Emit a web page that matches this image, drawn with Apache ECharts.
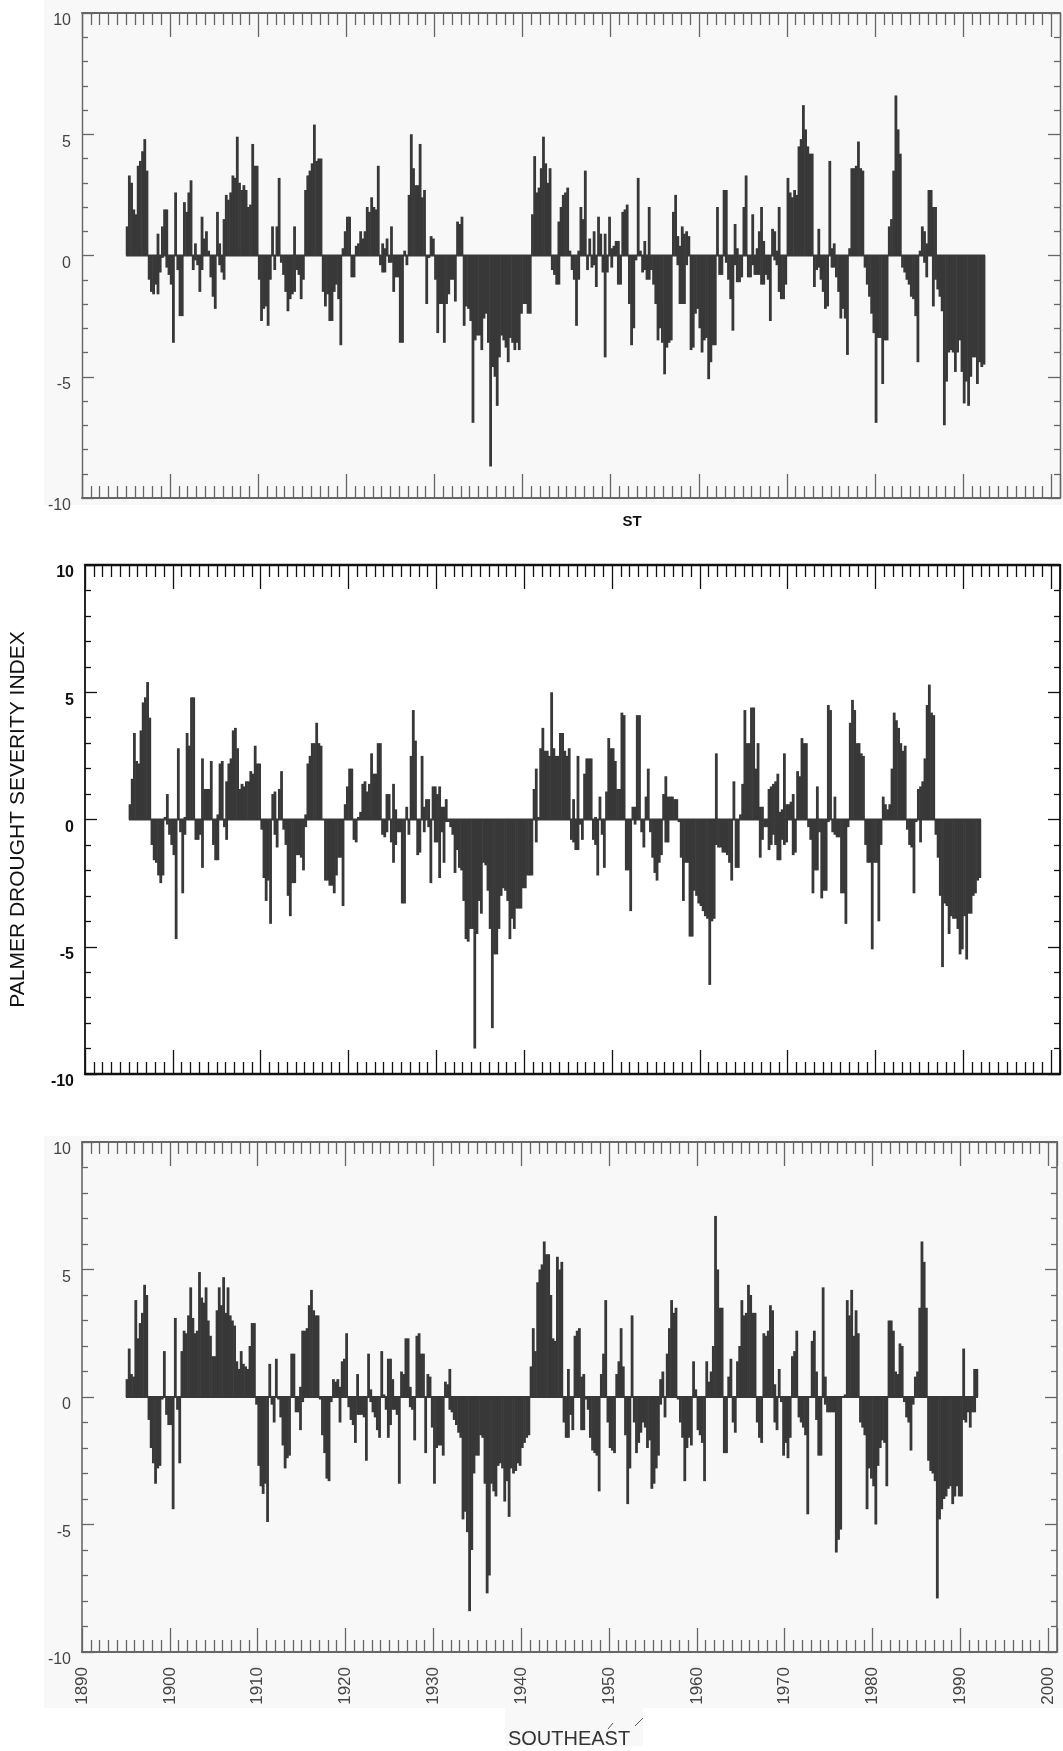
<!DOCTYPE html>
<html>
<head>
<meta charset="utf-8">
<title>Palmer Drought Severity Index</title>
<script src="https://cdn.jsdelivr.net/npm/echarts@6/dist/echarts.min.js"></script>
<style>
html, body { margin: 0; padding: 0; background: #fff; }
#chart { width: 1063px; height: 1751px; }
</style>
</head>
<body>
<div id="chart"></div>
<script>
// quarterly readings, first value is 1895 Q1. five years on each line
var firstYear = 1895;
var yearTicks = ['1890', '1900', '1910', '1920', '1930', '1940', '1950', '1960', '1970', '1980', '1990', '2000'];
var yLabels = [10, 5, 0, -5, -10];

// top panel
var wetTop = [
  1.2,3.3,3,1.9, 1.7,3.7,3.9,4.3, 4.8,3.5,0,0, 0,0,.9,0, 1.2,1.9,1.9,0,
  0,0,2.6,0, 0,0,2.2,1.8, 2.6,3.1,0,.5, 0,0,1.6,.7, 1,.2,0,0,
  0,1.8,.5,0, 1.5,2.5,2.3,2.6, 3.3,3.2,4.9,3, 2.7,2.9,2.7,2, 2.1,4.6,3.7,3.7,
  0,0,0,0, 0,0,1.2,0, 1.2,3.2,0,0, 0,0,0,0, 1.2,0,0,0,
  0,2.7,3.3,3.5, 3.8,5.4,3.9,4, 4,0,0,0, 0,0,0,0, 0,0,.3,1,
  1.6,1.6,0,0, .4,.5,1,.7, 1,2,1.8,2.4, 2,1.9,3.7,0, .5,.3,.7,0,
  1.2,0,0,0, 0,0,.2,0, 2.5,5,3.6,2.9, 2.9,4.6,2.4,2.7, 0,0,.8,.7,
  0,0,0,0, 0,0,0,0, 0,0,1.4,1.3, 1.6,0,0,0, 0,0,0,0,
  0,0,0,0, 0,0,0,0, 0,0,0,0, 0,0,0,0, 0,0,0,0,
  0,0,0,0, 1.7,4.1,2.6,2.8, 3.6,4.9,3.8,3, 3.6,0,0,0, 1.4,2,2.5,2.6,
  2.8,.2,0,0, 0,.2,2,1.5, 3.5,0,.7,0, 1,0,1.6,.9, 0,.9,0,1.6,
  .3,.4,.6,.6, 0,1.8,1.9,2.1, 0,0,0,0, 3.2,.2,0,.6, 0,2,0,0,
  0,0,0,0, 0,0,0,0, 1.8,2.5,.8,.4, 1.2,.9,1,.8, 0,0,0,0,
  0,0,0,0, 0,0,0,0, 2,0,0,2.7, 2.7,0,0,0, 1.3,.3,0,0,
  2,3.3,0,0, 1.7,0,.3,1, 2,.6,0,0, 0,1.1,1,.2, 2,0,0,0,
  3.2,2.6,2.4,2.7, 2.5,4.5,4.8,6.2, 5.2,4.5,4.2,4.2, 0,0,1.1,0, 0,0,0,3.9,
  .3,.5,0,0, 0,0,0,0, .3,3.6,3.6,3.7, 4.7,3.6,3.5,0, 0,0,0,0,
  0,0,0,0, 0,0,1.2,1.5, 3.5,6.6,5.2,4.2, 0,0,0,0, 0,0,0,0,
  .2,1.2,1,.5, 2.7,2.7,2,2, 0,0,0,0, 0,0,0,0, 0,0,0,0,
  0,0,0,0, 0,0,0,0, 0,0
];
var dryTop = [
  0,0,0,0, 0,0,0,0, 0,0,-1,-1.5, -1.6,-1.2,-1.6,-.7, -.1,0,-.5,-.8,
  -1.2,-3.6,0,-.6, -2.5,-2.5,0,0, 0,0,-.6,-.2, -.4,-1.5,-.6,0, 0,0,-.9,-1.7,
  -2.2,0,-.4,-.7, -1,0,0,0, 0,0,0,0, 0,0,0,0, 0,0,0,0,
  -1,-2.7,-2.2,-2.1, -2.9,-1,0,-.6, 0,0,-.3,-.8, -1.5,-2.3,-1.8,-1.6, -1.5,-.6,-.8,-1.8,
  -1,0,0,0, 0,0,0,0, 0,-1.5,-2.1,-1.6, -2.7,-2.7,-1.5,-1.2, -1.8,-3.7,0,0,
  0,0,-.9,-.9, 0,0,0,0, 0,0,0,0, 0,0,0,-.4, -.7,-.7,0,-.3,
  -.3,-1.5,-.9,-.9, -3.6,-3.6,0,-.4, 0,0,0,0, 0,0,0,0, -2,-.1,0,0,
  -1,-3.2,-2,-2, -3.6,-2,-1.6,-1, -1,-1.9,0,0, 0,-2.9,-2.1,-2.2, -2.7,-6.9,-3.5,-3.3,
  -3.3,-3.9,-2.6,-2.4, -3.6,-8.7,-4.6,-5, -6.2,-4.2,-3.3,-3.5, -3.8,-4.4,-3.4,-3.6, -3.9,-3.6,-3.9,-2.4,
  -2,-2,-2.4,-2.4, 0,0,0,0, 0,0,0,0, 0,-.6,-.8,-1.2, -1.2,0,0,0,
  0,0,-.6,-1, -2.9,-1,0,0, 0,-.6,0,-.5, -.4,-1.3,0,0, -.7,-4.2,-.7,0,
  -.5,0,0,-1.2, -1.2,0,0,0, -2,-3.7,-3,-.2, 0,0,-.7,-.6, -1,-1,-.6,-1.2,
  -2,-3.5,-3,-3.6, -4.9,-3.8,-3.6,-3.5, 0,0,-.4,-2, -2,-2,-.4,0, -3.9,-3.8,-2.4,-2.2,
  -3,-4,-3.5,-3.4, -5.1,-4.4,-3.7,-3.7, 0,-.8,-.8,0, -.3,-1,-1.8,-3.1, -.4,-1.1,-1.1,-.9,
  0,0,-.9,-.9, -.4,-.8,-.8,-.8, -1.2,-1.2,-.8,-1, -2.7,0,-.2,-.4, -1.5,-1.8,-1.8,-1.2,
  0,0,0,0, 0,0,0,0, 0,0,0,0, -1.3,-.6,-.5,-1, -1.5,-2.2,-2.1,0,
  -.5,-.5,-.9,-1.5, -2.6,-2.2,-2.6,-4.1, 0,0,0,0, 0,0,0,-.5, -1.2,-1.7,-2.4,-3.2,
  -6.9,-3.4,-3.4,-5.3, -3.5,-3.5,0,0, 0,0,0,0, -.5,-.7,-1,-1.2, -1.7,-1.8,-2.5,-4.4,
  0,0,-.3,-.9, 0,0,-2.1,-1, -1.4,-1.7,-2.3,-7, -5.2,-4,-3.9,-4, -4.8,-4,-3.5,-4.8,
  -6.1,-5.2,-6.2,-5, -4.2,-4.2,-5.3,-4.4, -4.6,-4.5
];

// middle panel
var wetMid = [
  .6,1.6,3.4,2.3, 2.2,3.5,4.6,4.8, 5.4,4,0,0, 0,0,0,0, .1,1,0,0,
  0,0,2.8,0, 0,.1,3.4,2.9, 4.8,4.8,0,0, 0,2.4,1.2,1.2, 1.2,2.3,0,0,
  .2,2.2,2.3,0, 1.5,2.2,2.4,3.5, 3.6,2.8,1.2,1.4, 1.3,1.5,1.5,1.9, 1.8,2.9,2.2,2.2,
  0,0,0,0, 0,1,1.1,0, 1.2,1.9,0,0, 0,0,0,0, 0,0,0,0,
  .2,2.2,2.5,3, 3,3.8,3,2.9, 0,0,0,0, 0,0,0,0, 0,0,.6,1.3,
  2,2,0,0, .1,.3,1.4,1.5, 1.1,1.4,2.6,1.8, 1.8,3,3,0, 0,1,1,0,
  1.4,.4,0,0, 0,0,.5,0, 2.5,4.3,3.1,0, 0,2.5,.5,.8, .8,0,1.3,1.3,
  1,1.3,.5,.5, .8,0,0,0, 0,0,0,0, 0,0,0,0, 0,0,0,0,
  0,0,0,0, 0,0,0,0, 0,0,0,0, 0,0,0,0, 0,0,0,0,
  0,0,0,0, 1.2,2,.1,2.8, 3.6,2.7,2.7,2.5, 5,2.8,2.5,2.5, 3.4,3.4,2.7,2.5,
  2.8,0,.8,0, 2.5,0,0,1.8, 2.4,2.4,2.4,0, .1,0,.9,0, 0,1.1,3.2,2.8,
  2.8,2.3,1.2,1.2, 4.2,4.1,0,0, 0,.5,.5,4.1, 4.1,0,0,.9, 2,0,0,0,
  0,0,0,1, 1.7,.9,.9,.9, .8,.8,0,0, 0,0,0,0, 0,0,0,0,
  0,0,0,0, 0,0,0,2.6, 0,0,0,0, 0,0,0,1.5, 0,0,.2,1.4,
  4.3,3,3,4.4, 4.4,2,3,.5, .5,0,0,1.2, 1.3,1.4,1.5,1.8, .3,.4,2.6,.6,
  .6,.7,1,0, 1.9,1.7,3.2,3, 3,0,0,0, 0,1.3,0,0, 0,0,4.5,4.3,
  0,.9,0,0, 0,0,0,0, 3.8,4.7,4.3,3, 3,2.6,2.5,0, 0,0,0,0,
  0,0,0,.9, .6,.4,.6,2, 4.2,3.9,3.6,3, 2.7,2.9,0,0, 0,0,0,1.2,
  1.3,1.5,2.4,4.5, 5.3,4.2,4.1,0, 0,0,0,0, 0,0,0,0, 0,0,0,0,
  0,0,0,0, 0,0,0,0
];
var dryMid = [
  0,0,0,0, 0,0,0,0, 0,0,-1,-1.6, -1.7,-2.2,-2.5,-2.2, 0,-.2,-.6,-1,
  -1.4,-4.7,0,-.5, -2.9,-.6,0,0, 0,0,-.8,-.8, -.6,-1.9,0,0, 0,0,-1,-1.6,
  -1.6,0,0,-.3, -.8,0,0,0, 0,0,0,0, 0,0,0,0, 0,0,0,0,
  -.4,-2.3,-3.2,-2.4, -4.1,0,-.6,-1.1, 0,0,-.4,-1, -3,-3.8,-2.5,-2.5, -1.4,-1.4,-1.5,-2,
  -.3,0,0,0, 0,0,0,0, 0,-2.4,-2.4,-2.6, -2.6,-2.9,-2.2,-1.5, -1.5,-3.4,0,0,
  0,0,-.8,-.9, 0,0,0,0, 0,0,0,0, 0,0,0,-.6, -.7,-.5,0,-.9,
  -1.7,-1,-.5,-.5, -3.3,-3.3,0,-.6, 0,0,0,-1.4, -1.3,0,-.5,0, -.3,-2.5,0,-.9,
  -.9,-2.3,-.5,-1.7, -.1,-.1,-.3,-.6, -2.1,-1.2,-1.9,-2, -3.2,-4.7,-4.8,-4.3, -4.3,-9,-4.5,-3.2,
  -3.7,-1.7,-1.8,-2.8, -4.3,-8.2,-5.3,-5.3, -4.3,-3,-2.7,-2.8, -3.2,-4.7,-3.9,-4.3, -3.5,-3.5,-3.5,-2.7,
  -2.7,-2.2,-2.2,-2.2, 0,-.9,0,0, 0,0,0,0, 0,0,0,0, 0,0,0,0,
  0,-.8,-.9,-1.2, -1.2,-.2,-.8,0, 0,0,0,-.8, -1,-2.2,0,-.6, -1.9,0,0,0,
  0,0,0,0, 0,0,-2,-2, -3.6,0,-.2,0, 0,-.5,-1.1,0, 0,-.5,-1.5,-2.1,
  -2.4,-1.7,-1.4,0, -.9,-.9,0,0, 0,0,-.1,-1.5, -3.2,-1.7,-1.7,-4.6, -4.6,-2.8,-3,-3.3,
  -3.4,-3.6,-3.8,-3.9, -6.5,-4,-3.9,-1, -1.1,-1.1,-1.3,-1.3, -1.4,-1.7,-2.4,0, -1.9,-1.9,0,0,
  0,0,0,0, 0,0,0,-1.5, -.8,-.3,-.3,-1.2, -1,-.6,-1,-1.6, -1.6,-.8,-1,-.9,
  0,0,-1.4,-1.3, 0,0,0,0, 0,-.3,-.8,-2.9, -2,-2,-.5,-3.1, -2.8,-2.8,-.1,0,
  -.5,-.6,-.7,-.7, -2.9,-2.9,-4.1,-.3, 0,0,0,0, 0,0,0,-1, -1.7,-1.7,-5.1,-1.7,
  -1.7,-4,-1,0, 0,0,0,0, 0,0,0,0, 0,0,-.4,-1, -1.1,-2.9,-.1,0,
  -.9,0,0,0, 0,0,0,-.6, -1.5,-3,-5.8,-3.3, -3.4,-4.5,-3.8,-3.9, -3.9,-4.3,-5.3,-5.1,
  -3.8,-5.5,-3.7,-3.7, -3,-2.9,-2.4,-2.3
];

// bottom panel
var wetBot = [
  .7,1.9,.9,.8, 3.8,2.3,2.9,3.3, 4.4,4,0,0, 0,0,0,0, 0,1.8,0,0,
  0,0,3.1,0, 0,1.8,2.6,2.5, 3.2,4.3,3.1,2.5, 2.6,4.9,3.9,3.7, 4.3,3,2.4,1.6,
  1.6,3.4,4.3,3.6, 4.7,3.3,4.3,3.2, 3,2.8,1.4,1.1, 1.8,1.3,1.2,1.1, 2,2.9,2.9,0,
  0,0,0,0, 0,1.3,0,0, 1.5,0,0,0, 0,0,0,1.7, 1.7,0,0,.4,
  2.6,2.6,2.7,3.6, 4.2,3.4,3.2,3.2, 0,0,0,0, 0,0,.7,.6, .7,.4,1.4,1.5,
  2.5,0,0,0, 0,.9,0,0, 0,0,1.7,.3, 0,0,0,0, 1.8,.1,0,1.5,
  1.5,.7,0,0, 0,1,.9,2.3, 2.3,.4,0,0, 2.4,2.5,1.7,1.7, 0,.9,.8,0,
  0,0,0,0, 0,.6,.5,1.1, 0,0,0,0, 0,0,0,0, 0,0,0,0,
  0,0,0,0, 0,0,0,0, 0,0,0,0, 0,0,0,0, 0,0,0,0,
  0,0,0,0, 1.2,2.7,1.8,4.5, 5,5.2,6.1,5.6, 5.6,4,2.3,2.2, 5.5,5,5.3,0,
  0,1.1,0,0, 2.4,2.6,2.7,.8, .9,0,0,0, 0,0,0,0, .9,1.7,3.8,0,
  0,0,0,.9, 1.4,2.7,1.2,0, 0,0,3.2,0, 0,0,0,0, 0,0,0,0,
  0,0,0,.7, 1,0,1.7,2.7, 3.8,3.3,3.5,0, 0,0,0,0, 0,0,1.4,.3,
  0,0,0,0, 1.4,.6,1,2, 7.1,5,3.5,3.5, 0,0,.8,1.5, 0,0,1.4,2,
  3.8,3.2,3.3,4.4, 4,3.3,3.3,0, 0,0,2.5,2.4, 2.6,3.6,3.4,.5, 0,1.1,0,0,
  0,0,0,1.6, 1.8,2.6,0,0, 0,0,0,0, 2.2,2.6,1,0, 0,4.3,.8,0,
  0,0,0,0, 0,0,0,.1, 3.8,3.2,4.2,2.4, 3.4,2.5,0,0, 0,0,0,0,
  0,0,0,0, 0,0,0,3, 3,2.6,1,.9, 2.1,2,0,0, 0,0,0,.8,
  1,3.5,6.1,5.3, 3.5,0,0,0, 0,0,0,0, 0,0,0,0, 0,0,0,0,
  0,1.9,0,0, 0,0,1.1,1.1
];
var dryBot = [
  0,0,0,0, 0,0,0,0, 0,0,-.9,-2, -2.6,-3.4,-2.8,-2.7, -.1,0,-.7,-1.1,
  -1.1,-4.4,0,-.5, -2.6,0,0,0, 0,0,0,0, 0,0,0,0, 0,0,0,0,
  0,0,0,0, 0,0,0,0, 0,0,0,0, 0,0,0,0, 0,0,0,-.3,
  -2.7,-3.5,-3.8,-3.4, -4.9,0,-.3,-1, 0,-.1,-.8,-1.9, -2.8,-2.4,-2.3,0, 0,-.6,-.6,-1.3,
  -.2,0,0,0, 0,0,0,0, -.1,-1.5,-2.2,-3.2, -3.3,-.2,0,0, 0,-1,0,0,
  0,-.4,-.9,-1.1, -1.8,-.7,-.7,-.7, -.8,-2.5,0,-.2, -.6,-.8,-1.3,-1.6, 0,0,-.5,-1.6,
  -1.1,-.5,-.5,-.7, -3.4,0,0,0, 0,-.4,-.5,-1.7, 0,0,0,0, -2.2,0,0,-1.2,
  -3.4,-2,-1.9,-1.9, -2.3,0,0,-.5, -.6,-.9,-1.1,-1.4, -1.6,-4.8,-4.5,-5.3, -8.4,-6,-3,-2.3,
  -2.3,-1.5,-1.6,-3.4, -7.7,-7,-3.4,-3.7, -3.9,-2.7,-2.6,-2.8, -4.1,-3.3,-4.7,-2.8, -3,-2.9,-2.6,-2.7,
  -2,-1.8,-1.6,-1.5, 0,0,0,0, 0,0,0,0, 0,0,0,0, 0,0,0,-1,
  -1.6,-1.6,-.7,-1.3, 0,0,0,-1.3, -1.3,-.1,-.5,-1.6, -2.1,-2.2,-2.3,-3.7, 0,0,0,-1,
  -2,-2.1,-2.2,0, 0,0,0,-1.5, -4.2,-2.8,0,-1, -2.2,-1.8,-1.4,-1, -1.2,-2,-1.7,-3.6,
  -3.4,-2.8,-2.3,-.3, 0,-.8,0,0, 0,0,0,-.1, -1,-1.6,-3.3,-2, -1.6,-1.9,0,0,
  -1.3,-1.5,-1.8,-3.3, 0,0,0,0, 0,0,0,0, -2.2,-2.2,0,0, -1,-1.4,0,0,
  0,0,0,0, 0,0,0,-1, -1.6,-1.8,0,0, 0,0,0,-1, -1.3,0,-.2,-2.3,
  -1.8,-2.4,-1.6,0, 0,0,-.8,-1, -1.2,-1.5,-4.6,0, 0,0,-.9,-2.3, -2.3,0,-.3,-.6,
  -.6,-.6,-.6,-6.1, -5.6,-5.2,0,0, 0,0,0,0, 0,0,-1,-1.2, -1.5,-4.4,-2.8,-3.2,
  -3.5,-5,-2.7,-2, -1.7,-1.8,-3.5,0, 0,0,0,0, 0,0,-.2,-.8, -1,-2.1,-.3,0,
  0,0,0,0, 0,-2.5,-2.9,-3, -3.3,-7.9,-4.8,-4.4, -4,-3.9,-3.6,-3.5, -4.2,-3.9,-3.5,-3.9,
  -3.9,-.9,-1,-.6, -1.2,-.6,-.6,0
];

var panelData = [
  { wet: wetTop, dry: dryTop },
  { wet: wetMid, dry: dryMid },
  { wet: wetBot, dry: dryBot }
];
var panelBoxes = [
  { top: 13, height: 485, width: 978, ink: '#666', axisWidth: 1.4, text: '#444', weight: 'normal' },
  { top: 565, height: 509, width: 978, ink: '#111', axisWidth: 1.8, text: '#111', weight: 'bold' },
  { top: 1142, height: 510, width: 975, ink: '#666', axisWidth: 1.6, text: '#444', weight: 'normal' }
];
var fontName = '"Liberation Sans", Arial, sans-serif';
var barColor = '#383838';

function toPairs(values) {
  var out = [];
  for (var i = 0; i < values.length; i++) {
    out.push([firstYear + (i + 0.5) / 4, values[i]]);
  }
  return out;
}

function xAxisFor(idx, pos, showLabels) {
  var b = panelBoxes[idx];
  return {
    type: 'value', gridIndex: idx, position: pos, min: 1890, max: 2001, interval: 10,
    axisLine: { show: true, onZero: false, lineStyle: { color: b.ink, width: b.axisWidth + .6 } },
    axisTick: { show: true, inside: true, length: 24, lineStyle: { color: b.ink, width: 1.3 } },
    minorTick: { show: true, splitNumber: 10, length: 12, lineStyle: { color: b.ink, width: 1.3 } },
    splitLine: { show: false },
    axisLabel: {
      show: showLabels, rotate: 90, margin: 15, fontFamily: fontName, fontSize: 17, color: '#444',
      showMaxLabel: false,
      formatter: function (v) { return yearTicks.indexOf(String(v)) >= 0 ? String(v) : ''; }
    }
  };
}

function yAxisFor(idx, pos, showLabels) {
  var b = panelBoxes[idx];
  var ax = {
    type: 'value', gridIndex: idx, position: pos, min: -10, max: 10, interval: 5,
    axisLine: { show: true, onZero: false, lineStyle: { color: b.ink, width: b.axisWidth } },
    axisTick: { show: true, inside: true, length: 12, lineStyle: { color: b.ink, width: 1.3 } },
    minorTick: { show: true, splitNumber: 5, length: 6, lineStyle: { color: b.ink, width: 1.3 } },
    splitLine: { show: false },
    axisLabel: {
      show: showLabels, margin: 11,
      // scanned labels sit a few pixels under their ticks
      rich: { low: { fontFamily: fontName, fontSize: 16, color: b.text, fontWeight: b.weight, padding: [16, 0, 0, 0] } },
      formatter: function (v) { return yLabels.indexOf(v) >= 0 ? '{low|' + v + '}' : ''; }
    }
  };
  if (idx === 1 && pos === 'left') {
    ax.name = 'PALMER DROUGHT SEVERITY INDEX';
    ax.nameLocation = 'middle';
    ax.nameRotate = 90;
    ax.nameGap = 56;
    ax.nameTextStyle = { fontFamily: fontName, fontSize: 21, color: '#111' };
  }
  return ax;
}

var grids = [], xAxes = [], yAxes = [], series = [];
panelBoxes.forEach(function (b, idx) {
  grids.push({ left: 82, top: b.top, width: b.width, height: b.height });
  xAxes.push(xAxisFor(idx, 'bottom', idx === 2));
  xAxes.push(xAxisFor(idx, 'top', false));
  yAxes.push(yAxisFor(idx, 'left', true));
  yAxes.push(yAxisFor(idx, 'right', false));

  var d = panelData[idx];
  var xi = idx * 2, yi = idx * 2;
  series.push({
    type: 'bar', xAxisIndex: xi, yAxisIndex: yi, data: toPairs(d.wet),
    barWidth: 2.8, barGap: '-100%', itemStyle: { color: barColor }, silent: true
  });
  series.push({
    type: 'bar', xAxisIndex: xi, yAxisIndex: yi, data: toPairs(d.dry),
    barWidth: 2.8, barGap: '-100%', itemStyle: { color: barColor }, silent: true
  });
  // baseline under the bars, only as far as the record runs
  var lastYear = firstYear + d.wet.length / 4;
  series.push({
    type: 'line', xAxisIndex: xi, yAxisIndex: yi, data: [[firstYear, 0], [lastYear, 0]],
    symbol: 'none', lineStyle: { color: barColor, width: 2 }, silent: true
  });
});

var chart = echarts.init(document.getElementById('chart'));
chart.setOption({
  animation: false,
  backgroundColor: '#fff',
  grid: grids,
  xAxis: xAxes,
  yAxis: yAxes,
  series: series,
  graphic: [
    // scanned paper behind the top and bottom panels
    { type: 'rect', z: -5, shape: { x: 44, y: 0, width: 1019, height: 505 }, style: { fill: '#f8f8f8' } },
    { type: 'rect', z: -5, shape: { x: 44, y: 1136, width: 1019, height: 572 }, style: { fill: '#f8f8f8' } },
    { type: 'rect', z: -5, shape: { x: 505, y: 1708, width: 138, height: 38 }, style: { fill: '#f8f8f8' } },
    { type: 'text', z: 5, style: { x: 632, y: 522, text: 'ST', fill: '#111', fontFamily: fontName, fontSize: 15, fontWeight: 'bold', align: 'center', verticalAlign: 'middle' } },
    { type: 'text', z: 5, style: { x: 569, y: 1739, text: 'SOUTHEAST', fill: '#333', fontFamily: fontName, fontSize: 20, align: 'center', verticalAlign: 'middle' } },
    { type: 'line', z: 5, shape: { x1: 608, y1: 1729, x2: 613, y2: 1723 }, style: { stroke: '#555', lineWidth: 1 } },
    { type: 'line', z: 5, shape: { x1: 635, y1: 1726, x2: 643, y2: 1718 }, style: { stroke: '#555', lineWidth: 1 } }
  ]
});
</script>
</body>
</html>
